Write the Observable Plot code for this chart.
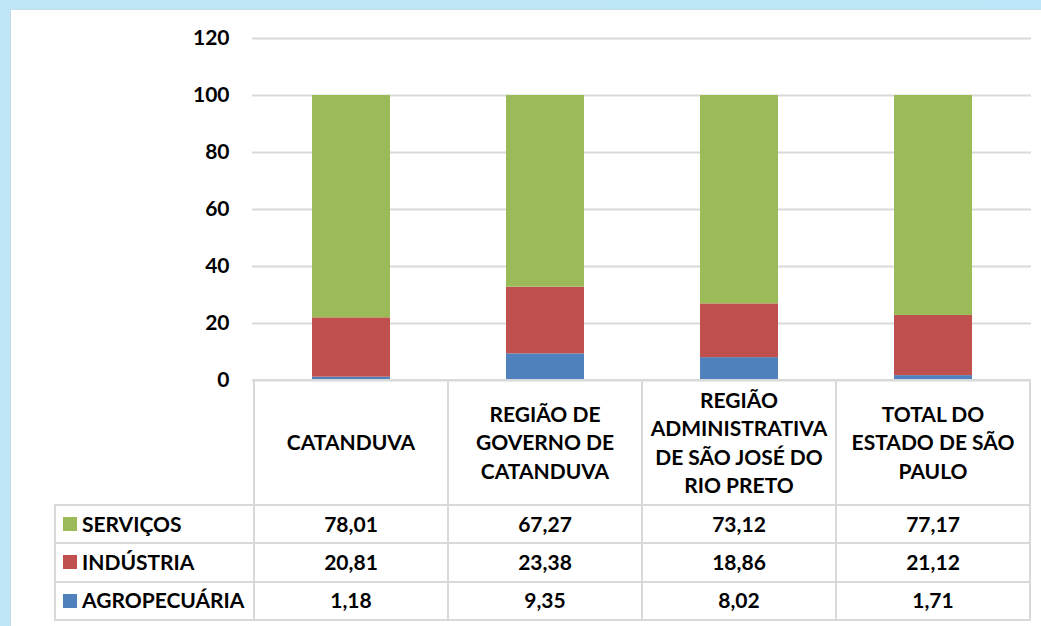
<!DOCTYPE html>
<html><head><meta charset="utf-8">
<script src="https://cdn.jsdelivr.net/npm/d3@7"></script>
<script src="https://cdn.jsdelivr.net/npm/@observablehq/plot@0.6"></script>
<style>
html,body{margin:0;padding:0;}
body{width:1041px;height:626px;overflow:hidden;background:linear-gradient(90deg,#bfe6f6,#bde7f8);font-family:Lato,"Open Sans",sans-serif;}
#wrap{position:relative;width:1041px;height:626px;}
#panel{position:absolute;left:11px;top:10px;width:1030px;height:616px;background:#fff;box-shadow:0 0 2px #ccc;}
#chart{position:absolute;left:0;top:0;}
.cell{position:absolute;box-sizing:border-box;border:2px solid #d9d9d9;display:flex;align-items:center;justify-content:center;text-align:center;font-weight:bold;font-size:21px;color:#000;line-height:28.5px;}
.leg{justify-content:flex-start;padding-left:7px;}
.sw{display:inline-block;width:14px;height:14px;margin-right:5px;}
</style></head>
<body><div id="wrap"><div id="panel"></div><div id="chart"></div><div id="table"></div></div>
<script>
const categories = ["CATANDUVA", "REGIÃO DE GOVERNO DE CATANDUVA", "REGIÃO ADMINISTRATIVA DE SÃO JOSÉ DO RIO PRETO", "TOTAL DO ESTADO DE SÃO PAULO"];
const headerLines = [["CATANDUVA"], ["REGIÃO DE", "GOVERNO DE", "CATANDUVA"], ["REGIÃO", "ADMINISTRATIVA", "DE SÃO JOSÉ DO", "RIO PRETO"], ["TOTAL DO", "ESTADO DE SÃO", "PAULO"]];
const seriesNames = ["AGROPECUÁRIA", "INDÚSTRIA", "SERVIÇOS"];
const seriesColors = ["#4f81bd", "#c0504d", "#9bbb59"];
const agropecuaria = [1.18, 9.35, 8.02, 1.71];
const industria = [20.81, 23.38, 18.86, 21.12];
const servicos = [78.01, 67.27, 73.12, 77.17];
const yTicks = [0, 20, 40, 60, 80, 100, 120];

const seriesValues = [agropecuaria, industria, servicos];
const data = [];
seriesNames.forEach((s, i) => categories.forEach((c, j) => data.push({cat: c, series: s, value: seriesValues[i][j]})));

const plot = Plot.plot({
  width: 1041, height: 626,
  marginLeft: 252, marginRight: 10, marginTop: 38, marginBottom: 246,
  style: {background: "transparent", fontFamily: "Lato, 'Open Sans', sans-serif"},
  x: {domain: categories, paddingInner: 0.6, paddingOuter: 0.3, axis: null},
  y: {domain: [0, 120], axis: null, label: null},
  color: {domain: seriesNames, range: seriesColors},
  marks: [
    Plot.gridY(yTicks, {stroke: "#d9d9d9", strokeOpacity: 1, strokeWidth: 2}),
    Plot.barY(data, {x: "cat", y: "value", fill: "series"}),
    Plot.axisY(yTicks, {tickSize: 0, tickPadding: 23, fontSize: 21, fontWeight: "bold", fill: "#000", label: null})
  ]
});
document.getElementById("chart").appendChild(plot);

// Data table below the chart, aligned with the x band scale
const xs = plot.scale("x");
const ys = plot.scale("y");
const step = xs.step;
const gap = (step - xs.bandwidth) / 2;
const top0 = ys.apply(0);
const headerH = 125;
const rowH = 38.3;
const table = document.getElementById("table");
function cell(x, y, w, h, html, cls) {
  const d = document.createElement("div");
  d.className = "cell" + (cls ? " " + cls : "");
  d.style.left = (x - 1) + "px"; d.style.top = (y - 1) + "px";
  d.style.width = (w + 2) + "px"; d.style.height = (h + 2) + "px";
  d.innerHTML = html;
  table.appendChild(d);
}
const legLeft = 55;
categories.forEach((c, j) => {
  const x0 = xs.apply(c) - gap;
  cell(x0, top0, step, headerH, headerLines[j].join("<br>"));
});
const rowOrder = [2, 1, 0];
rowOrder.forEach((si, r) => {
  const y0 = top0 + headerH + r * rowH;
  const firstX = xs.apply(categories[0]) - gap;
  cell(legLeft, y0, firstX - legLeft, rowH, `<span class="sw" style="background:${seriesColors[si]}"></span>${seriesNames[si]}`, "leg");
  categories.forEach((c, j) => {
    const x0 = xs.apply(c) - gap;
    cell(x0, y0, step, rowH, seriesValues[si][j].toFixed(2).replace(".", ","));
  });
});
</script></body></html>
